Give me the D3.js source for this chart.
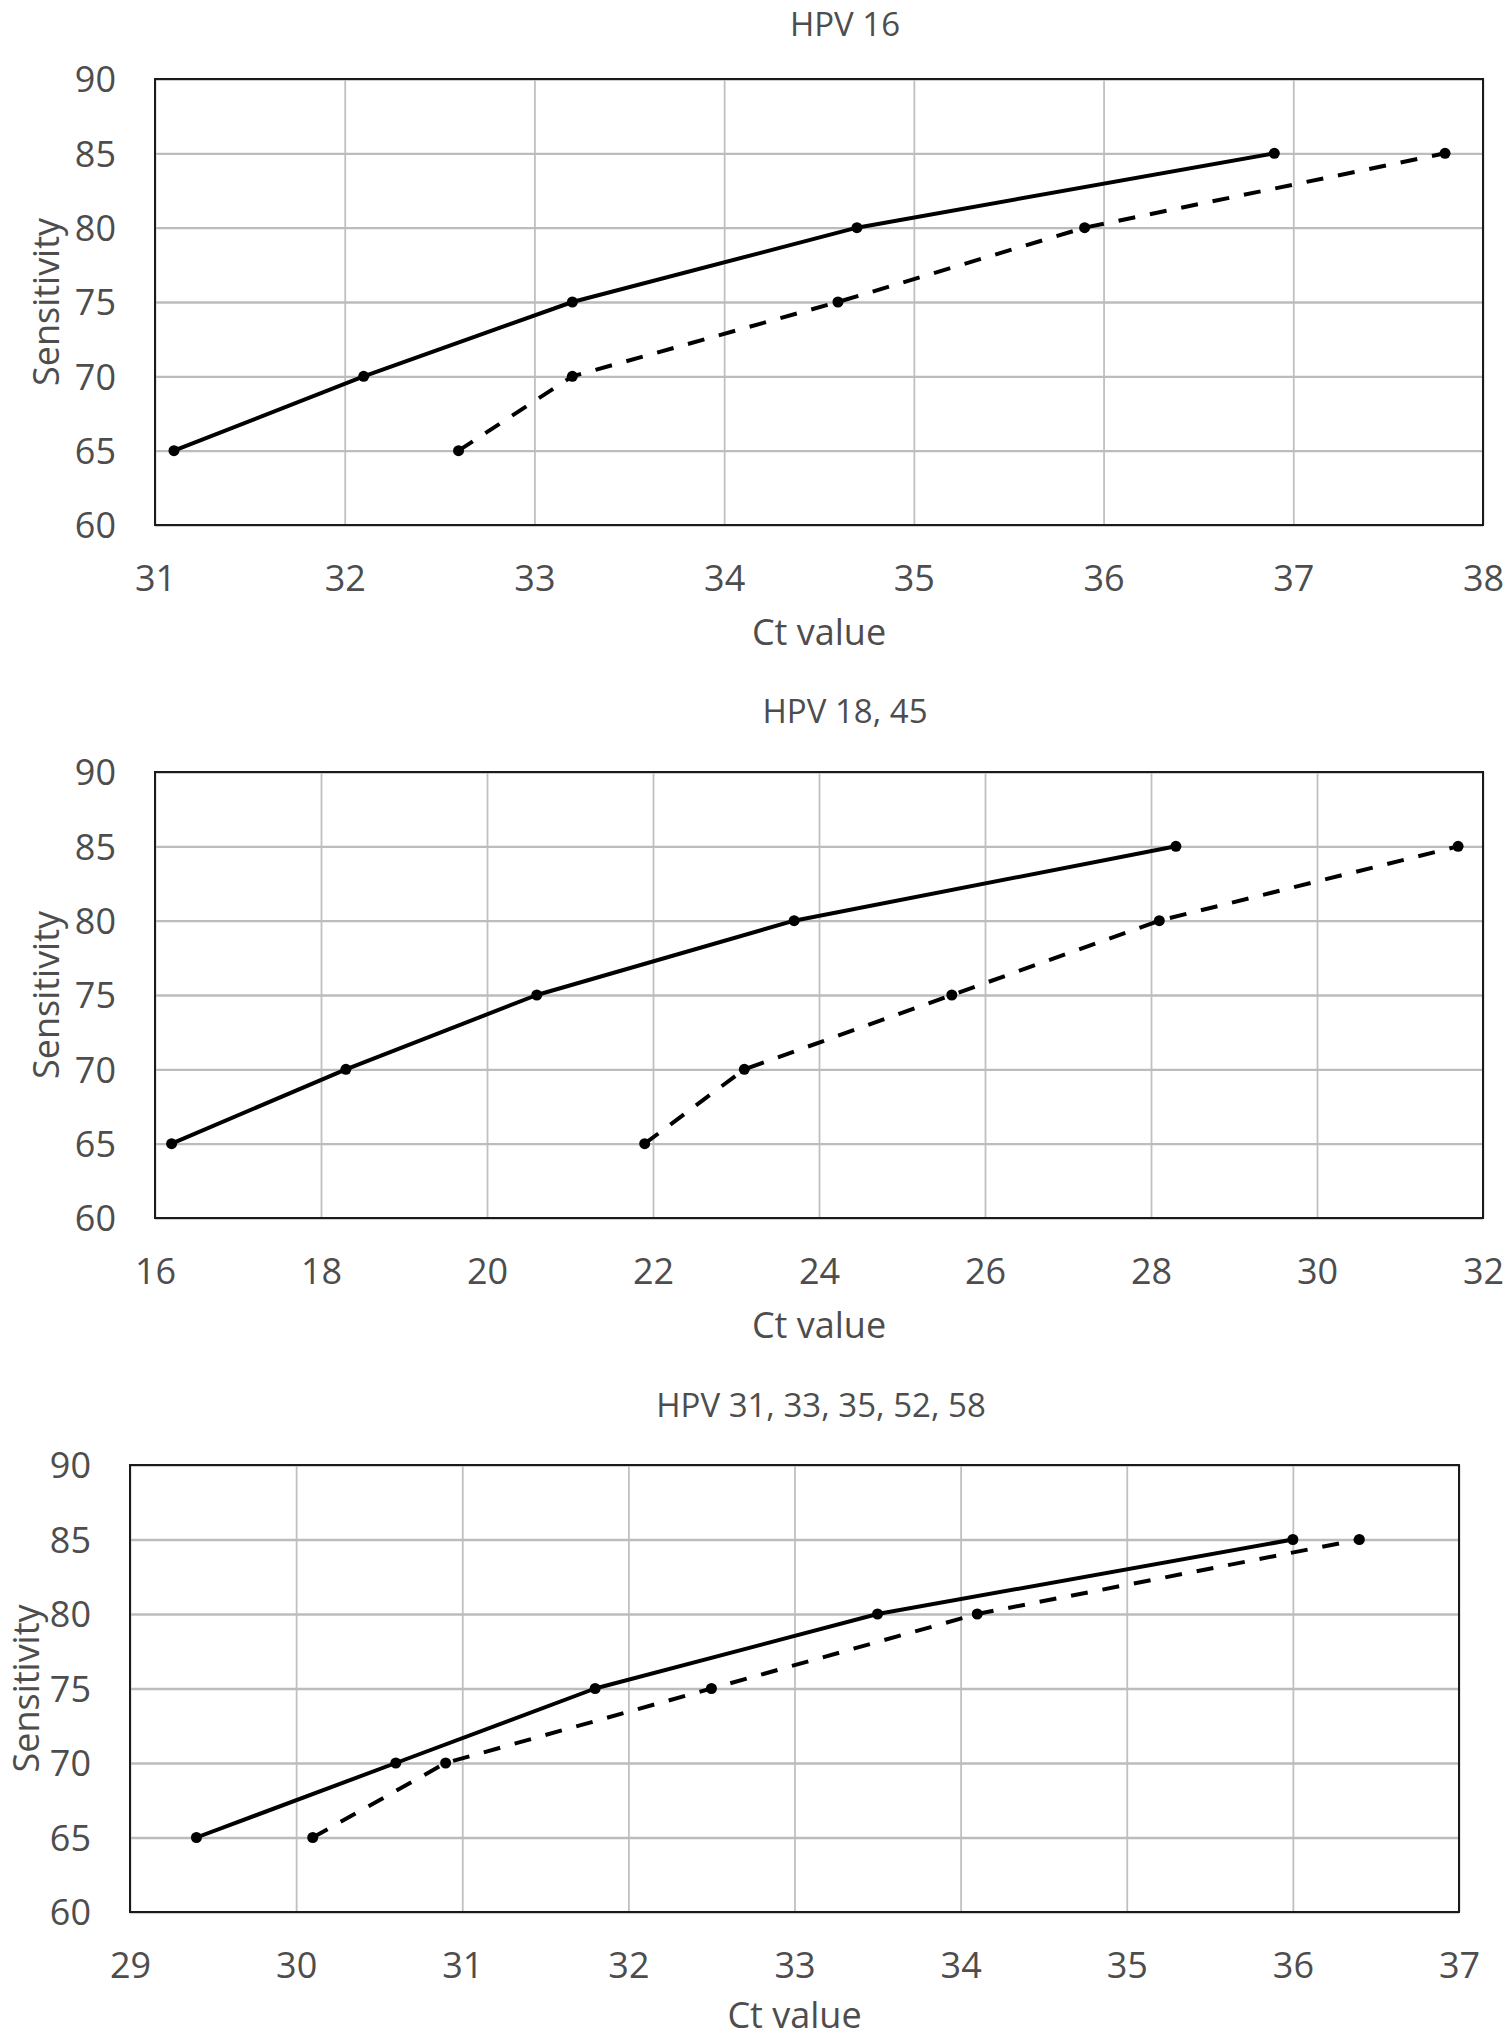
<!DOCTYPE html>
<html>
<head>
<meta charset="utf-8">
<script src="https://cdn.jsdelivr.net/npm/d3@7"></script>
<style>
  html, body { margin: 0; padding: 0; background: #ffffff; }
  svg { display: block; }
  text { font-family: "Open Sans", "Noto Sans", sans-serif; fill: #4d4d4d; }
</style>
</head>
<body>
<svg id="chart" width="1508" height="2040"></svg>
<script>
// ---- Data ----
const panelTitles = ["HPV 16", "HPV 18, 45", "HPV 31, 33, 35, 52, 58"];
const sensitivity = [65, 70, 75, 80, 85];
const yTicks = [60, 65, 70, 75, 80, 85, 90];

const hpv16Solid  = [31.1, 32.1, 33.2, 34.7, 36.9];
const hpv16Dashed = [32.6, 33.2, 34.6, 35.9, 37.8];
const hpv16XTicks = [31, 32, 33, 34, 35, 36, 37, 38];

const hpv1845Solid  = [16.2, 18.3, 20.6, 23.7, 28.3];
const hpv1845Dashed = [21.9, 23.1, 25.6, 28.1, 31.7];
const hpv1845XTicks = [16, 18, 20, 22, 24, 26, 28, 30, 32];

const hpvOtherSolid  = [29.4, 30.6, 31.8, 33.5, 36.0];
const hpvOtherDashed = [30.1, 30.9, 32.5, 34.1, 36.4];
const hpvOtherXTicks = [29, 30, 31, 32, 33, 34, 35, 36, 37];

const xTitle = "Ct value";
const yTitle = "Sensitivity";

// ---- Layout ----
const panels = [
  { title: panelTitles[0], solid: hpv16Solid, dashed: hpv16Dashed, xTicks: hpv16XTicks,
    left: 155, right: 1483, top: 79, bottom: 525, titleX: 845, titleY: 36, yTitleX: 59, xTitleDy: 120 },
  { title: panelTitles[1], solid: hpv1845Solid, dashed: hpv1845Dashed, xTicks: hpv1845XTicks,
    left: 155, right: 1483, top: 772, bottom: 1218, titleX: 845, titleY: 723, yTitleX: 59, xTitleDy: 120 },
  { title: panelTitles[2], solid: hpvOtherSolid, dashed: hpvOtherDashed, xTicks: hpvOtherXTicks,
    left: 130, right: 1459, top: 1465, bottom: 1912, titleX: 821, titleY: 1417, yTitleX: 39, xTitleDy: 116 }
];

const svg = d3.select("#chart");
svg.append("rect").attr("width", 1508).attr("height", 2040).attr("fill", "#ffffff");

panels.forEach(p => {
  const g = svg.append("g");
  const x = d3.scaleLinear()
    .domain([p.xTicks[0], p.xTicks[p.xTicks.length - 1]])
    .range([p.left, p.right]);
  const y = d3.scaleLinear()
    .domain([yTicks[0], yTicks[yTicks.length - 1]])
    .range([p.bottom, p.top]);

  // gridlines
  const xg = g.append("g")
    .attr("transform", `translate(0,${p.bottom})`)
    .call(d3.axisBottom(x).tickValues(p.xTicks).tickSize(-(p.bottom - p.top)).tickFormat(""));
  xg.select(".domain").remove();
  xg.selectAll("line").attr("stroke", "#c0c0c0").attr("stroke-width", 1.8);

  const yg = g.append("g")
    .attr("transform", `translate(${p.left},0)`)
    .call(d3.axisLeft(y).tickValues(yTicks).tickSize(-(p.right - p.left)).tickFormat(""));
  yg.select(".domain").remove();
  yg.selectAll("line").attr("stroke", "#bcbcbc").attr("stroke-width", 2.4);

  // tick labels
  const xl = g.append("g")
    .attr("transform", `translate(0,${p.bottom})`)
    .call(d3.axisBottom(x).tickValues(p.xTicks).tickSize(0).tickPadding(0).tickFormat(d3.format("d")));
  xl.select(".domain").remove();
  xl.selectAll("text")
    .attr("y", 66).attr("dy", null)
    .style("font-size", "36px")
    .style("font-family", '"Open Sans", sans-serif')
    .attr("fill", "#4d4d4d");

  const yl = g.append("g")
    .attr("transform", `translate(${p.left},0)`)
    .call(d3.axisLeft(y).tickValues(yTicks).tickSize(0).tickPadding(0).tickFormat(d3.format("d")));
  yl.select(".domain").remove();
  yl.selectAll("text")
    .attr("x", -39).attr("dy", "0.36em")
    .style("font-size", "36px")
    .style("font-family", '"Open Sans", sans-serif')
    .attr("fill", "#4d4d4d");

  // plot border
  g.append("rect")
    .attr("x", p.left).attr("y", p.top)
    .attr("width", p.right - p.left).attr("height", p.bottom - p.top)
    .attr("fill", "none").attr("stroke", "#1a1a1a").attr("stroke-width", 2);

  // series
  const line = d3.line().x(d => x(d[0])).y(d => y(d[1]));
  const solidPts = p.solid.map((v, i) => [v, sensitivity[i]]);
  const dashedPts = p.dashed.map((v, i) => [v, sensitivity[i]]);

  g.append("path").datum(dashedPts).attr("d", line)
    .attr("fill", "none").attr("stroke", "#000").attr("stroke-width", 4)
    .attr("stroke-dasharray", "17,15");
  g.append("path").datum(solidPts).attr("d", line)
    .attr("fill", "none").attr("stroke", "#000").attr("stroke-width", 4)
    .attr("stroke-linejoin", "round");

  g.selectAll(null).data(dashedPts.concat(solidPts)).enter().append("circle")
    .attr("cx", d => x(d[0])).attr("cy", d => y(d[1])).attr("r", 5.5)
    .attr("fill", "#000");

  // titles
  g.append("text").attr("x", p.titleX).attr("y", p.titleY)
    .attr("text-anchor", "middle").style("font-size", "33px").text(p.title);
  g.append("text").attr("x", (p.left + p.right) / 2).attr("y", p.bottom + p.xTitleDy)
    .attr("text-anchor", "middle").style("font-size", "36px").text(xTitle);
  g.append("text")
    .attr("transform", `translate(${p.yTitleX},${(p.top + p.bottom) / 2}) rotate(-90)`)
    .attr("text-anchor", "middle").style("font-size", "36px").text(yTitle);
});
</script>
</body>
</html>
